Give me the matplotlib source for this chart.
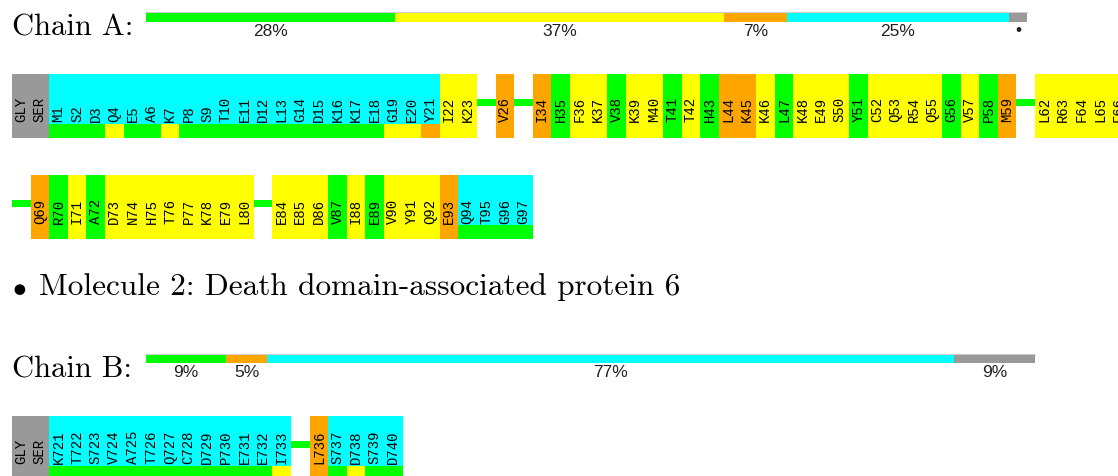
import matplotlib.pyplot as plt

plt.rcParams['mathtext.fontset'] = 'cm'

colors = {"G": "#00ff00", "Y": "#ffff00", "O": "#ffa500", "C": "#00ffff", "X": "#999999"}

# summary bars (residue counts per class)
chainA_counts = [28, 37, 7, 25, 2]
chainA_codes = ["G", "Y", "O", "C", "X"]
chainA_labels = ["28%", "37%", "7%", "25%", "•"]

chainB_counts = [2, 1, 17, 2]
chainB_codes = ["G", "O", "C", "X"]
chainB_labels = ["9%", "5%", "77%", "9%"]

# residue rows: "" = gap; top colour code and bottom strip code per slot
rowA1_names = ["GLY", "SER", "M1", "S2", "D3", "Q4", "E5", "A6", "K7", "P8", "S9", "T10",
               "E11", "D12", "L13", "G14", "D15", "K16", "K17", "E18", "G19", "E20", "Y21",
               "I22", "K23", "", "V26", "", "I34", "H35", "F36", "K37", "V38", "K39", "M40",
               "T41", "T42", "H43", "L44", "K45", "K46", "L47", "K48", "E49", "S50", "Y51",
               "C52", "Q53", "R54", "Q55", "G56", "V57", "P58", "M59", "", "L62", "R63",
               "F64", "L65", "F66"]
rowA1_top = "XX" + "CCCCCCCCCCCCCCCCCCCCC" + "YY-O-" + "OGYYGYYGYGOOYGYYYGYYYYGYGO" + "-YYYYY"
rowA1_bot = "XX" + "GGGYGGYGGGGGGGGGGGYYO" + "YY-O-" + "OGYYGYYGYGOOYGYYYGYYYYGYGO" + "-YYYYY"

rowA2_names = ["", "Q69", "R70", "I71", "A72", "D73", "N74", "H75", "T76", "P77", "K78",
               "E79", "L80", "", "E84", "E85", "D86", "V87", "I88", "E89", "V90", "Y91",
               "Q92", "E93", "Q94", "T95", "G96", "G97"]
rowA2_top = "-OGYGYYYYYYYY-YYYGYGYYYOCCCC"
rowA2_bot = "-OGYGYYYYYYYY-YYYGYGYYYOGGGG"

rowB_names = ["GLY", "SER", "K721", "T722", "S723", "V724", "A725", "T726", "Q727", "C728",
              "D729", "P730", "E731", "E732", "I733", "", "L736", "S737", "D738", "S739", "D740"]
rowB_top = "XXCCCCCCCCCCCCC-OCCCC"
rowB_bot = "XXGGGGGGGGGGGGY-OGYGG"

fig = plt.figure(figsize=(11.18, 4.76), dpi=100)
ax = fig.add_axes([0, 0, 1, 1])
ax.set_xlim(0, 1118)
ax.set_ylim(476, 0)
ax.axis('off')

serif = 'cmr10'
sans = 'Liberation Sans'
mono = 'Liberation Mono'


def summary_bar(y, x0, x1, counts, codes, labels, label_y):
    total = sum(counts)
    scale = (x1 - x0) / total
    left = x0
    for n, c, lab in zip(counts, codes, labels):
        ax.barh(y, n * scale, left=left, height=9.2, color=colors[c], align='edge', linewidth=0)
        ax.text(left + n * scale / 2, label_y, lab, ha='center', va='center',
                fontsize=12.5, family=sans, color='#222222')
        left += n * scale
    ax.plot([x0, x1], [y, y], color='#cccccc', lw=0.8)


def residue_row(y0, names, top, bot, x0=12, w=18.6, h=64, strip=14.5):
    for i, (name, t, b) in enumerate(zip(names, top, bot)):
        x = x0 + i * w
        if t == '-':
            ax.bar(x, 7, bottom=y0 + 24.5, width=w, color=colors["G"], align='edge', linewidth=0)
            continue
        if t == b:
            ax.bar(x, h, bottom=y0, width=w, color=colors[t], align='edge', linewidth=0)
        else:
            ax.bar(x, h - strip, bottom=y0, width=w, color=colors[t], align='edge', linewidth=0)
            ax.bar(x, strip, bottom=y0 + h - strip, width=w, color=colors[b], align='edge', linewidth=0)
        ax.text(x + w / 2, y0 + h - strip - 1, name, rotation=90, ha='center', va='bottom',
                fontsize=10, family=mono, color='black')


ax.text(12, 36, "Chain A:", fontsize=22, family=serif, va='baseline')
summary_bar(12.3, 146, 1027, chainA_counts, chainA_codes, chainA_labels, 31)
residue_row(74, rowA1_names, rowA1_top, rowA1_bot)
residue_row(175, rowA2_names, rowA2_top, rowA2_bot)

ax.text(12, 295, r"$\bullet$", fontsize=20, va='baseline')
ax.text(39, 295, "Molecule 2: Death domain-associated protein 6", fontsize=22.5,
        family=serif, va='baseline')

ax.text(12, 378, "Chain B:", fontsize=22, family=serif, va='baseline')
summary_bar(353.5, 145.5, 1035, chainB_counts, chainB_codes, chainB_labels, 372.5)
residue_row(416, rowB_names, rowB_top, rowB_bot)

fig.savefig("out.png", dpi=100)
